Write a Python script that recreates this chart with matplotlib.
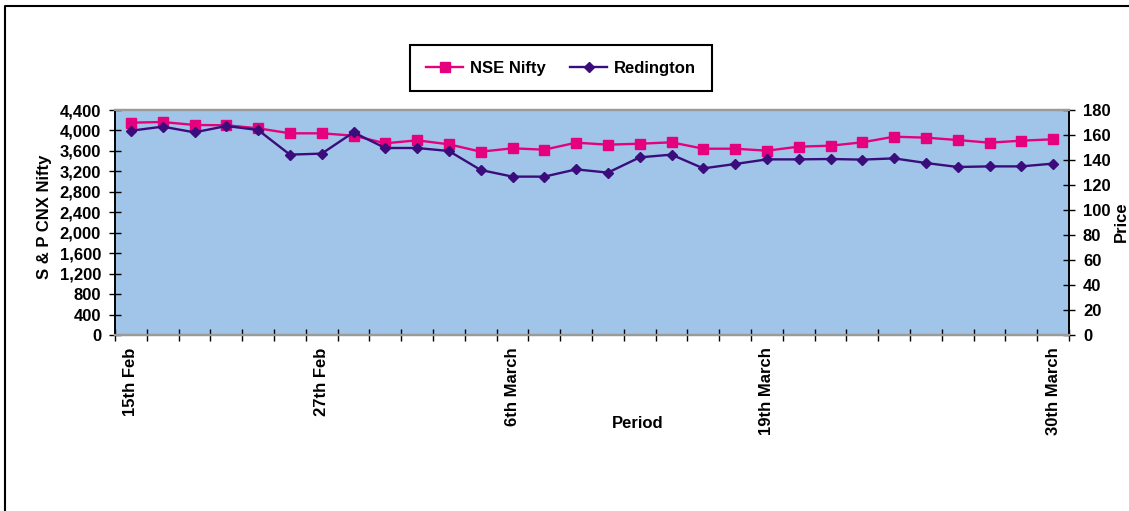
import numpy as np
import matplotlib
matplotlib.use("Agg")
import matplotlib.pyplot as plt
from matplotlib.lines import Line2D

plt.rcParams['font.family'] = ['Liberation Sans', 'DejaVu Sans']
plt.rcParams['font.weight'] = 'bold'

# trading days 15th Feb .. 30th March
day_labels = ['15th Feb', '', '', '', '', '', '27th Feb', '', '', '', '', '',
              '6th March', '', '', '', '', '', '', '', '19th March', '', '',
              '', '', '', '', '', '', '30th March']
nifty = [4152, 4165, 4107, 4101, 4042, 3944, 3944, 3898, 3749, 3807,
         3729, 3585, 3651, 3624, 3761, 3722, 3741, 3768, 3643, 3643,
         3604, 3683, 3702, 3768, 3878, 3859, 3813, 3761, 3800, 3827]
redington = [163.4, 166.7, 162.1, 167.2, 164.0, 144.3, 145.1, 162.1, 149.6, 149.6,
             147.2, 132.0, 126.7, 126.7, 132.5, 129.9, 142.1, 144.3, 133.3, 136.8,
             140.5, 140.5, 140.8, 140.3, 141.3, 137.6, 134.4, 134.9, 134.9, 137.1]
left_ticks = [0, 400, 800, 1200, 1600, 2000, 2400, 2800, 3200, 3600, 4000, 4400]
right_ticks = [0, 20, 40, 60, 80, 100, 120, 140, 160, 180]

pink = '#E5007D'
purple = '#3A0C7C'
fs = 12

W, H = 1129, 511
fig = plt.figure(figsize=(W / 100, H / 100), dpi=100)
ax = fig.add_axes([115 / W, 1 - 335 / H, (1069 - 115) / W, (335 - 110) / H])
ax.set_facecolor('#A0C5E8')
ax2 = ax.twinx()

x = np.arange(len(nifty))
l1, = ax.plot(x, nifty, color=pink, lw=1.7, marker='s', ms=6.5, label='NSE Nifty', zorder=3)
l2, = ax2.plot(x, redington, color=purple, lw=1.7, marker='D', ms=5.5, label='Redington', zorder=3)

ax.set_xlim(-0.5, len(nifty) - 0.5)
ax.set_ylim(0, 4400)
ax2.set_ylim(0, 180)

ax.set_yticks(left_ticks)
ax.set_yticklabels(['{:,}'.format(v) for v in left_ticks])
ax2.set_yticks(right_ticks)

idx = [i for i, s in enumerate(day_labels) if s]
ax.set_xticks(idx)
ax.set_xticklabels([day_labels[i] for i in idx], rotation=90, va='top', ha='center')
ax.set_xticks(np.arange(-0.5, len(nifty)), minor=True)
ax.tick_params(axis='x', which='major', length=0, pad=9, labelsize=fs)
ax.tick_params(axis='x', which='minor', length=8, width=1, direction='inout')
ax.tick_params(axis='y', length=8, width=1, direction='inout', pad=6, labelsize=fs)
ax2.tick_params(axis='y', length=8, width=1, direction='inout', pad=6, labelsize=fs)

for a in (ax, ax2):
    a.spines['left'].set_color('black')
    a.spines['right'].set_color('black')
    a.spines['left'].set_linewidth(1.2)
    a.spines['right'].set_linewidth(1.2)
    a.spines['top'].set_color('#9a9a9a')
    a.spines['bottom'].set_color('#9a9a9a')
    a.spines['top'].set_linewidth(1.6)
    a.spines['bottom'].set_linewidth(1.6)

fig.text(45 / W, 1 - 217 / H, 'S & P CNX Nifty', rotation=90, ha='center', va='center', fontsize=fs)
fig.text(1121 / W, 1 - 222 / H, 'Price', rotation=90, ha='center', va='center', fontsize=fs)
fig.text(638 / W, 1 - 423 / H, 'Period', ha='center', va='center', fontsize=fs)

leg = fig.legend(handles=[l1, l2], loc='center', bbox_to_anchor=(561 / W, 1 - 68 / H),
                 ncol=2, fancybox=False, framealpha=1, edgecolor='black',
                 prop={'size': fs, 'weight': 'bold'}, borderpad=0.95,
                 handlelength=2.2, handletextpad=0.4, columnspacing=1.5)
leg.get_frame().set_linewidth(1.5)

# outer chart frame (cut off at right and bottom)
fig.add_artist(Line2D([5 / W, 5 / W, 1.0], [0.0, 1 - 6 / H, 1 - 6 / H],
                      transform=fig.transFigure, color='black', lw=1.5))

fig.savefig('out.png', dpi=100)
